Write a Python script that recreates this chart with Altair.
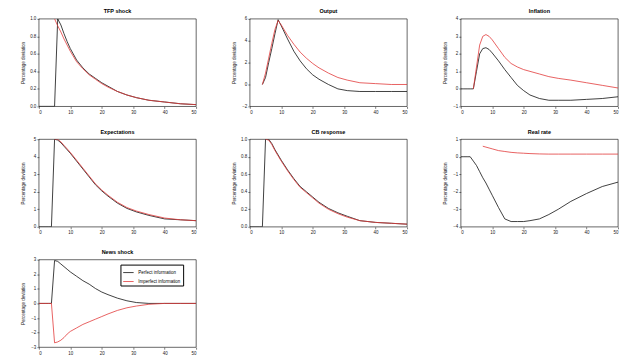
import altair as alt
import pandas as pd

# ---- data -------------------------------------------------------------
T = [0, 1, 2, 3, 4, 5, 6, 7, 8, 9, 10, 12, 14, 16, 18, 20, 22, 25, 28, 31, 35, 40, 45, 50]
N = None

series_names = ["Perfect information", "Imperfect information"]
titles = ["TFP shock", "Output", "Inflation", "Expectations", "CB response", "Real rate", "News shock"]
y_title = "Percentage deviation"

# black series (first) and red series (second) per panel, aligned with T
p1_black = [0, 0, 0, 0, 0, 0, 1.0, 0.93, 0.83, 0.74, 0.66, 0.53, 0.44, 0.37, 0.32, 0.27, 0.23, 0.17, 0.13, 0.10, 0.07, 0.05, 0.03, 0.02]
p1_red = [N, N, N, N, N, 1.0, 0.92, 0.85, 0.77, 0.70, 0.63, 0.51, 0.43, 0.36, 0.31, 0.26, 0.22, 0.17, 0.13, 0.10, 0.07, 0.05, 0.03, 0.02]

p2_black = [N, N, N, N, 0.0, 0.64, 2.0, 3.28, 4.64, 5.92, 5.36, 4.16, 3.04, 2.16, 1.44, 0.88, 0.48, 0.0, -0.4, -0.56, -0.64, -0.64, -0.64, -0.64]
p2_red = [N, N, N, N, 0.0, 1.04, 2.4, 3.76, 5.04, 5.84, 5.44, 4.48, 3.68, 2.96, 2.4, 1.92, 1.52, 1.04, 0.64, 0.4, 0.16, 0.08, 0.0, 0.0]

p3_black = [0, 0, 0, 0, 0, 1.0, 2.0, 2.3, 2.35, 2.25, 2.05, 1.6, 1.1, 0.65, 0.2, -0.1, -0.35, -0.55, -0.65, -0.65, -0.65, -0.6, -0.55, -0.45]
p3_red = [N, N, N, N, 0.0, 1.25, 2.5, 3.0, 3.1, 3.0, 2.8, 2.3, 1.8, 1.45, 1.25, 1.1, 1.0, 0.85, 0.7, 0.6, 0.5, 0.35, 0.2, 0.05]

p4_black = [0, 0, 0, 0, 0, 5.0, 4.95, 4.8, 4.6, 4.4, 4.2, 3.75, 3.3, 2.85, 2.4, 2.05, 1.75, 1.35, 1.05, 0.85, 0.65, 0.45, 0.4, 0.35]
p4_red = [N, N, N, N, N, 5.0, 5.0, 4.85, 4.65, 4.45, 4.25, 3.8, 3.35, 2.9, 2.45, 2.1, 1.8, 1.4, 1.1, 0.9, 0.7, 0.5, 0.4, 0.35]

p5_black = [0, 0, 0, 0, 0, 1.0, 1.0, 0.95, 0.88, 0.82, 0.76, 0.65, 0.55, 0.46, 0.40, 0.34, 0.28, 0.21, 0.16, 0.12, 0.07, 0.05, 0.04, 0.03]
p5_red = [N, N, N, N, N, 1.0, 0.99, 0.94, 0.87, 0.81, 0.75, 0.64, 0.54, 0.45, 0.39, 0.33, 0.27, 0.20, 0.15, 0.11, 0.07, 0.05, 0.04, 0.03]

p6_black = [0, 0, 0, 0, -0.25, -0.5, -0.85, -1.2, -1.5, -1.85, -2.2, -2.9, -3.55, -3.7, -3.7, -3.7, -3.65, -3.55, -3.3, -3.0, -2.55, -2.1, -1.7, -1.45]
p6_red = [N, N, N, N, N, N, N, 0.6, 0.55, 0.5, 0.45, 0.35, 0.3, 0.25, 0.22, 0.2, 0.18, 0.16, 0.15, 0.15, 0.15, 0.15, 0.15, 0.15]

p7_black = [0, 0, 0, 0, 0, 2.94, 2.88, 2.7, 2.52, 2.34, 2.16, 1.86, 1.56, 1.32, 1.02, 0.78, 0.6, 0.36, 0.18, 0.06, 0.0, 0.0, 0.0, 0.0]
p7_red = [0, 0, 0, 0, 0, -2.7, -2.64, -2.52, -2.34, -2.1, -1.92, -1.68, -1.44, -1.26, -1.08, -0.9, -0.72, -0.48, -0.3, -0.18, -0.06, 0.0, 0.0, 0.0]

panels = [
    (p1_black, p1_red, [0, 1], [0, 0.2, 0.4, 0.6, 0.8, 1.0]),
    (p2_black, p2_red, [-2, 6], [-2, 0, 2, 4, 6]),
    (p3_black, p3_red, [-1, 4], [-1, 0, 1, 2, 3, 4]),
    (p4_black, p4_red, [0, 5], [0, 1, 2, 3, 4, 5]),
    (p5_black, p5_red, [0, 1], [0, 0.2, 0.4, 0.6, 0.8, 1.0]),
    (p6_black, p6_red, [-4, 1], [-4, -3, -2, -1, 0, 1]),
    (p7_black, p7_red, [-3, 3], [-3, -2, -1, 0, 1, 2, 3]),
]

x_ticks = [0, 10, 20, 30, 40, 50]

W, H = 158, 88


def make_panel(i):
    black, red, dom, ticks = panels[i]
    rows = []
    for name, vals in zip(series_names, [black, red]):
        for t, v in zip(T, vals):
            if v is not None:
                rows.append({"t": t, "v": v, "s": name})
    df = pd.DataFrame(rows)
    legend = None
    if i == 6:
        legend = alt.Legend(title=None, orient="none", legendX=82, legendY=5,
                            labelFontSize=4.5, symbolType="stroke",
                            symbolSize=110, symbolStrokeWidth=0.8,
                            strokeColor="#000", fillColor="#fff",
                            padding=2, rowPadding=1, labelLimit=200)
    return alt.Chart(df).mark_line(strokeWidth=0.8, clip=True).encode(
        x=alt.X("t:Q", scale=alt.Scale(domain=[0, 50], nice=False),
                axis=alt.Axis(values=x_ticks, title=None)),
        y=alt.Y("v:Q", scale=alt.Scale(domain=dom, nice=False, zero=False),
                axis=alt.Axis(values=ticks, title=y_title)),
        color=alt.Color("s:N", scale=alt.Scale(domain=series_names, range=["#111111", "#e23a3a"]),
                        legend=legend),
        order=alt.Order("t:Q"),
    ).properties(width=W, height=H, title=titles[i])


row1 = alt.hconcat(make_panel(0), make_panel(1), make_panel(2), spacing=34)
row2 = alt.hconcat(make_panel(3), make_panel(4), make_panel(5), spacing=34)
row3 = alt.hconcat(make_panel(6), spacing=34)

chart = alt.vconcat(row1, row2, row3, spacing=10).resolve_legend(color="independent").properties(
    padding={"left": 12, "top": 0, "right": 0, "bottom": 0}
).configure_view(stroke="#000", strokeWidth=0.6).configure_axis(
    labelFontSize=4.5, titleFontSize=4.5, tickSize=2, labelPadding=1,
    titlePadding=1, minExtent=12, maxExtent=12, domain=False, grid=False,
    tickColor="#000", labelColor="#222", titleColor="#222", tickWidth=0.5,
    titleFontWeight="normal", labelFont="Liberation Sans", titleFont="Liberation Sans"
).configure_title(fontSize=5.5, fontWeight="bold", offset=1, font="Liberation Sans")

chart.save("out.html", embed_options={"renderer": "svg", "actions": False})
